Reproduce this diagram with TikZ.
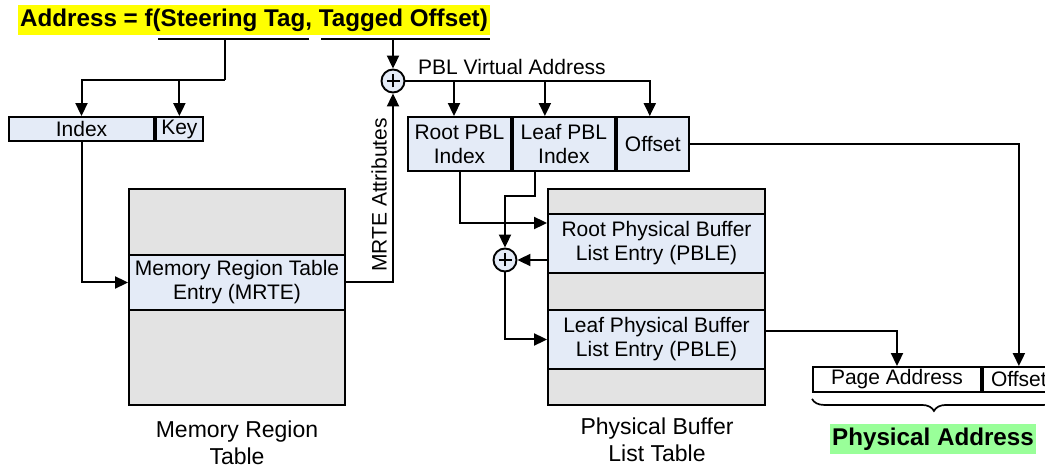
\documentclass[tikz,border=0pt]{standalone}
\usepackage{fontspec}
\setmainfont{Liberation Sans}
\usetikzlibrary{arrows.meta,positioning,calc,decorations.pathreplacing}
\definecolor{cellblue}{RGB}{228,235,247}
\definecolor{tablegrey}{RGB}{227,227,227}
\definecolor{hlyellow}{RGB}{255,255,0}
\definecolor{hlgreen}{RGB}{153,255,153}

\begin{document}
\begin{tikzpicture}[x=1pt, y=-1pt,
    txt/.style={font=\fontsize{21}{24}\selectfont, align=center},
    caption/.style={font=\fontsize{23}{26.5}\selectfont, align=center},
    cell/.style={rectangle, draw, line width=1.9pt, fill=cellblue, inner sep=0pt, txt},
    tbl/.style={rectangle, draw, line width=2.1pt, fill=tablegrey,
               minimum width=216pt, minimum height=216pt},
    entry/.style={cell, minimum width=216pt},
    adder/.style={circle, draw, line width=1.9pt, fill=cellblue, minimum size=23pt, inner sep=0pt,
               path picture={\draw[line width=2.6pt]
                 ([xshift=-6.5pt]path picture bounding box.center) -- ([xshift=6.5pt]path picture bounding box.center)
                 ([yshift=-6.5pt]path picture bounding box.center) -- ([yshift=6.5pt]path picture bounding box.center);}},
    hl/.style={font=\fontsize{24.2}{28}\selectfont\bfseries, inner xsep=2pt, inner ysep=4pt},
    arr/.style={-{Triangle[length=13pt,width=12pt]}, line width=2pt},
    wire/.style={line width=2pt}
]
    \clip (0,0) rectangle (1045,470);

    % Title and its two fields
    \node[hl, fill=hlyellow] (title) at (254,20) {Address = f(Steering Tag, Tagged Offset)};
    \coordinate (stA) at (158,39);  \coordinate (stB) at (309,39);
    \coordinate (toA) at (321,39);  \coordinate (toB) at (490,39);
    \coordinate (st) at (225,39);   \coordinate (to) at (393,39);
    \draw[wire] (stA) -- (stB);
    \draw[wire] (toA) -- (toB);

    % Steering tag: Index | Key
    \node[cell, minimum width=145pt, minimum height=24pt] (index) at (81.5,129) {Index};
    \node[cell, minimum width=47pt, minimum height=24pt, right=0pt of index] (key) {Key};
    \coordinate (split1) at (225,80);
    \draw[wire] (st) -- (split1);
    \draw[arr] (split1) -| (index.north);
    \draw[arr] (split1 -| key) -- (key.north);

    % Memory Region Table
    \node[tbl] (mrt) at (237,297) {};
    \node[entry, minimum height=55pt] (mrte) at (237,282.5) {Memory Region Table\\Entry (MRTE)};
    \node[caption] (mrtlabel) at (237,443) {Memory Region\\Table};
    \draw[arr] (index.south) |- (mrte.west);

    % adder for the virtual address
    \node[adder] (add1) at (393,81) {};
    \draw[arr] (to) -- (add1.north);
    \draw[arr] (mrte.east) -| (add1.south);
    \node[txt, rotate=90] (attr) at (379,195) {MRTE Attributes};

    % PBL virtual address fields
    \node[cell, minimum width=103pt, minimum height=54pt] (rootidx) at (459.5,144) {Root PBL\\Index};
    \node[cell, minimum width=102pt, minimum height=54pt, right=0pt of rootidx] (leafidx) {Leaf PBL\\Index};
    \node[cell, minimum width=72pt, minimum height=54pt, right=0pt of leafidx] (offidx) {Offset};
    \node[txt, anchor=base] (pblva) at (512,75) {PBL Virtual Address};
    \coordinate (rin) at ([xshift=-5.5pt]rootidx.north);
    \coordinate (lin) at ([xshift=-19pt]leafidx.north);
    \coordinate (oin) at ([xshift=-3pt]offidx.north);
    \draw[arr] (add1.east) -| (oin);
    \draw[arr] (rin |- add1) -- (rin);
    \draw[arr] (lin |- add1) -- (lin);

    % Physical Buffer List Table
    \node[tbl, minimum width=217pt] (pbl) at (656.5,297) {};
    \node[entry, minimum width=217pt, minimum height=59pt] (rootpble) at (656.5,243.5) {Root Physical Buffer\\List Entry (PBLE)};
    \node[entry, minimum width=217pt, minimum height=59pt] (leafpble) at (656.5,339.5) {Leaf Physical Buffer\\List Entry (PBLE)};
    \node[caption] (pbllabel) at (657,440) {Physical Buffer\\List Table};

    % root + leaf walk
    \node[adder] (add2) at (505,260) {};
    \coordinate (lout) at ([xshift=-29pt]leafidx.south);
    \draw[arr] (rootidx.south) |- ([yshift=20.5pt]rootpble.west);
    \draw[arr] (lout) -- ++(0,24) -| (add2.north);
    \draw[arr] ([yshift=-16.5pt]rootpble.west) -- (add2.east);
    \draw[arr] (add2.south) |- (leafpble.west);

    % Physical address
    \node[rectangle, draw, line width=1.9pt, fill=white, txt, inner sep=0pt,
          minimum width=168pt, minimum height=25pt] (pageaddr) at (897,379.5) {Page Address};
    \node[rectangle, draw, line width=1.9pt, fill=white, txt, inner sep=0pt,
          minimum width=72pt, minimum height=25pt, right=0pt of pageaddr] (physoff) {Offset};
    \draw[arr] ([yshift=8.5pt]leafpble.east) -| (pageaddr.north);
    \draw[arr] (offidx.east) -| (physoff.north);
    \draw[wire, line width=1.7pt, decorate, decoration={brace, mirror, amplitude=12pt}]
        ([yshift=-6pt]pageaddr.south west) -- ([yshift=-6pt]physoff.south east);
    \node[hl, fill=hlgreen] (physlabel) at (933,439) {Physical Address};
\end{tikzpicture}
\end{document}
